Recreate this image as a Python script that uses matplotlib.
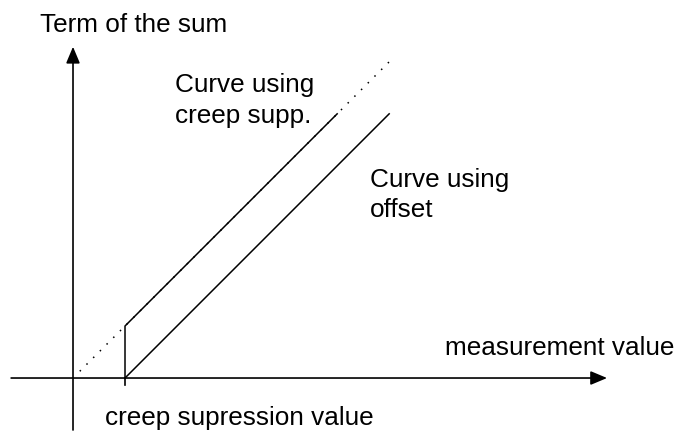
"""Sketch: creep suppression vs. offset curve."""

import matplotlib

matplotlib.use("Agg")
import matplotlib.pyplot as plt

# data (units: creep suppression value = 1)
creep_value = 1.0
creep_x = [1.0, 1.0, 5.08]
creep_y = [0.0, 1.0, 5.08]
offset_x = [1.0, 6.08]
offset_y = [0.0, 5.08]
ideal_x = [0.13, 6.15]
ideal_y = [0.13, 6.15]

x_axis = (-1.19, 10.27)
y_axis = (-1.0, 6.37)

labels = [
    ("Term of the sum", -0.635, 6.654),
    ("Curve using", 1.96, 5.5),
    ("creep supp.", 1.96, 4.904),
    ("Curve using", 5.71, 3.673),
    ("offset", 5.71, 3.096),
    ("measurement value", 7.154, 0.442),
    ("creep supression value", 0.615, -0.904),
]

plt.rcParams["font.family"] = ["Liberation Sans", "DejaVu Sans"]

fig = plt.figure(figsize=(6.8, 4.32), dpi=100)
ax = fig.add_axes([0, 0, 1, 1])
ax.set_xlim(-1.404, 11.673)
ax.set_ylim(-1.038, 7.269)
ax.axis("off")

arrow = dict(arrowstyle="-|>,head_length=1.0,head_width=0.42", mutation_scale=10,
             lw=1.2, color="black", shrinkA=0, shrinkB=0)
ax.annotate("", xy=(x_axis[1], 0), xytext=(x_axis[0], 0), arrowprops=arrow)
ax.annotate("", xy=(0, y_axis[1]), xytext=(0, y_axis[0]), arrowprops=arrow)

# tick at the creep suppression value
ax.plot([creep_value, creep_value], [0, -0.135], color="black", lw=1.2)

ax.plot(ideal_x, ideal_y, color="black", lw=1.1, linestyle=(0, (1, 5.2)))
ax.plot(creep_x, creep_y, color="black", lw=1.1)
ax.plot(offset_x, offset_y, color="black", lw=1.1)

for text, x, y in labels:
    ax.text(x, y, text, fontsize=18.8, ha="left", va="baseline")

fig.savefig("out.png", dpi=100)
